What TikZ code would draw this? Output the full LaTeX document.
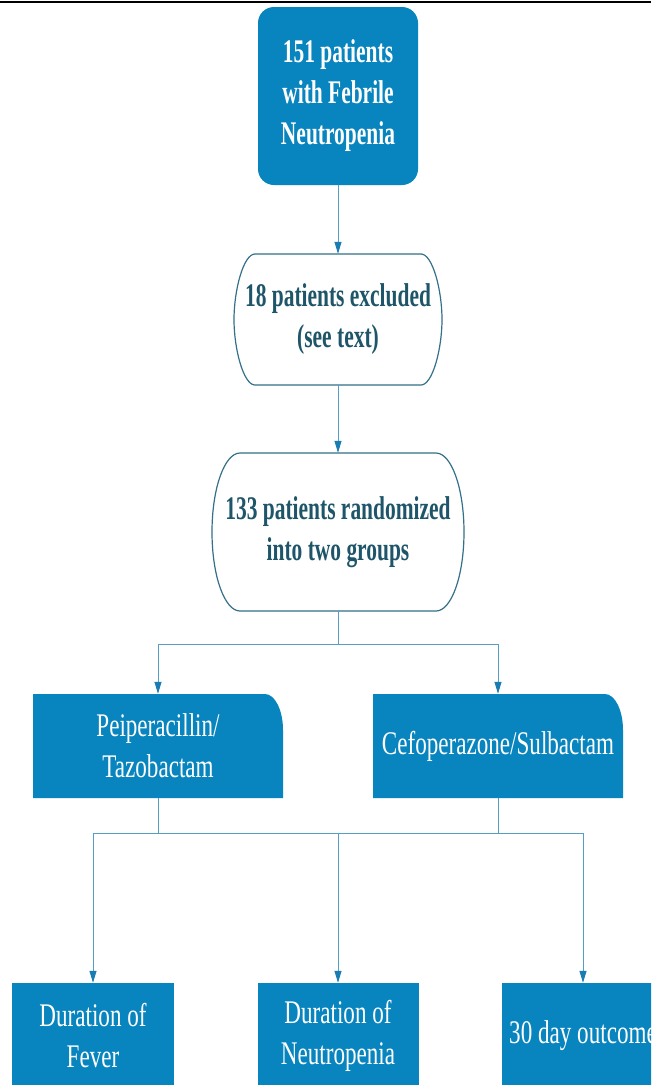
\documentclass[tikz,border=0pt]{standalone}
\usepackage{fontspec}
\setmainfont{Liberation Serif}[FakeStretch=0.7]
\newfontfamily\bcond{Liberation Serif}[FakeStretch=0.65]
\usetikzlibrary{arrows.meta}
\definecolor{fillblue}{RGB}{8,133,190}
\definecolor{bordteal}{RGB}{52,112,135}
\definecolor{darktext}{RGB}{30,85,105}
\definecolor{linecol}{RGB}{85,158,196}
\definecolor{headcol}{RGB}{25,125,180}
\begin{document}
\begin{tikzpicture}[x=1pt,y=-1pt,
  txt/.style={align=center, inner sep=0pt, font=\fontsize{33}{41}\selectfont},
  btxt/.style={align=center, inner sep=0pt, font={\bcond\bfseries\fontsize{33}{41}\selectfont}},
  outline/.style={draw=bordteal, line width=1.2pt, fill=white},
  bluefill/.style={fill=fillblue},
  ln/.style={draw=linecol, line width=1pt},
  conn/.style={draw=linecol, line width=1pt, -{Triangle[length=12pt,width=7pt,color=headcol]}}]
\useasboundingbox (0,0) rectangle (651,1085);
\clip (0,0) rectangle (651,1085);
\fill[white] (0,0) rectangle (651,1085);
\draw[black, line width=2pt] (0,2) -- (651,2);

% shapes
\path[outline] (255,254) -- (421,254) .. controls (432.6,254) and (442,290.2) .. (442,319.5)
  .. controls (442,348.8) and (432.6,385) .. (421,385) -- (255,385)
  .. controls (243.4,385) and (234,348.8) .. (234,319.5)
  .. controls (234,290.2) and (243.4,254) .. (255,254) -- cycle;
\path[outline] (240,453) -- (436,453) .. controls (451.5,453) and (464,488.4) .. (464,532)
  .. controls (464,575.6) and (451.5,611) .. (436,611) -- (240,611)
  .. controls (224.5,611) and (212,575.6) .. (212,532)
  .. controls (212,488.4) and (224.5,453) .. (240,453) -- cycle;
\path[bluefill] (33,694) -- (265,694) .. controls (274.9,694) and (283,710.1) .. (283,730) -- (283,798) -- (33,798) -- cycle;
\path[bluefill] (373,694) -- (605,694) .. controls (614.9,694) and (623,710.1) .. (623,730) -- (623,798) -- (373,798) -- cycle;

% nodes
\node[btxt, text=white, fill=fillblue, rounded corners=16pt, minimum width=160pt, minimum height=178pt] (n1) at (338,96) {151 patients\\with Febrile\\Neutropenia};
\node[btxt, text=darktext, minimum width=208pt, minimum height=131pt] (n2) at (338,319.5) {18 patients excluded\\(see text)};
\node[btxt, text=darktext, minimum width=252pt, minimum height=158pt] (n3) at (338,532) {133 patients randomized\\into two groups};
\node[txt, text=white, minimum width=250pt, minimum height=104pt] (n4) at (158,746) {Peiperacillin/\\Tazobactam};
\node[txt, text=white, minimum width=250pt, minimum height=104pt] (n5) at (498,746) {Cefoperazone/Sulbactam};
\node[txt, text=white, fill=fillblue, minimum width=162pt, minimum height=105pt] (o1) at (93,1035.5) {Duration of\\Fever};
\node[txt, text=white, fill=fillblue, minimum width=161pt, minimum height=105pt] (o2) at (338,1035.5) {Duration of\\Neutropenia};
\node[txt, text=white, fill=fillblue, minimum width=162pt, minimum height=105pt] (o3) at (583,1035.5) {30 day outcome};

% connectors
\coordinate (j1) at (338,644);
\coordinate (j2) at (158,833);
\coordinate (j3) at (498,833);
\coordinate (j4) at (93,833);
\coordinate (j5) at (338,833);
\coordinate (j6) at (583,833);
\draw[conn] (n1) -- (n2);
\draw[conn] (n2) -- (n3);
\draw[ln] (n3) -- (j1);
\draw[conn] (j1) -| (n4);
\draw[conn] (j1) -| (n5);
\draw[ln] (n4) -- (j2);
\draw[ln] (n5) -- (j3);
\draw[ln] (j4) -- (j6);
\draw[conn] (j4) -- (o1);
\draw[conn] (j5) -- (o2);
\draw[conn] (j6) -- (o3);
\end{tikzpicture}
\end{document}
